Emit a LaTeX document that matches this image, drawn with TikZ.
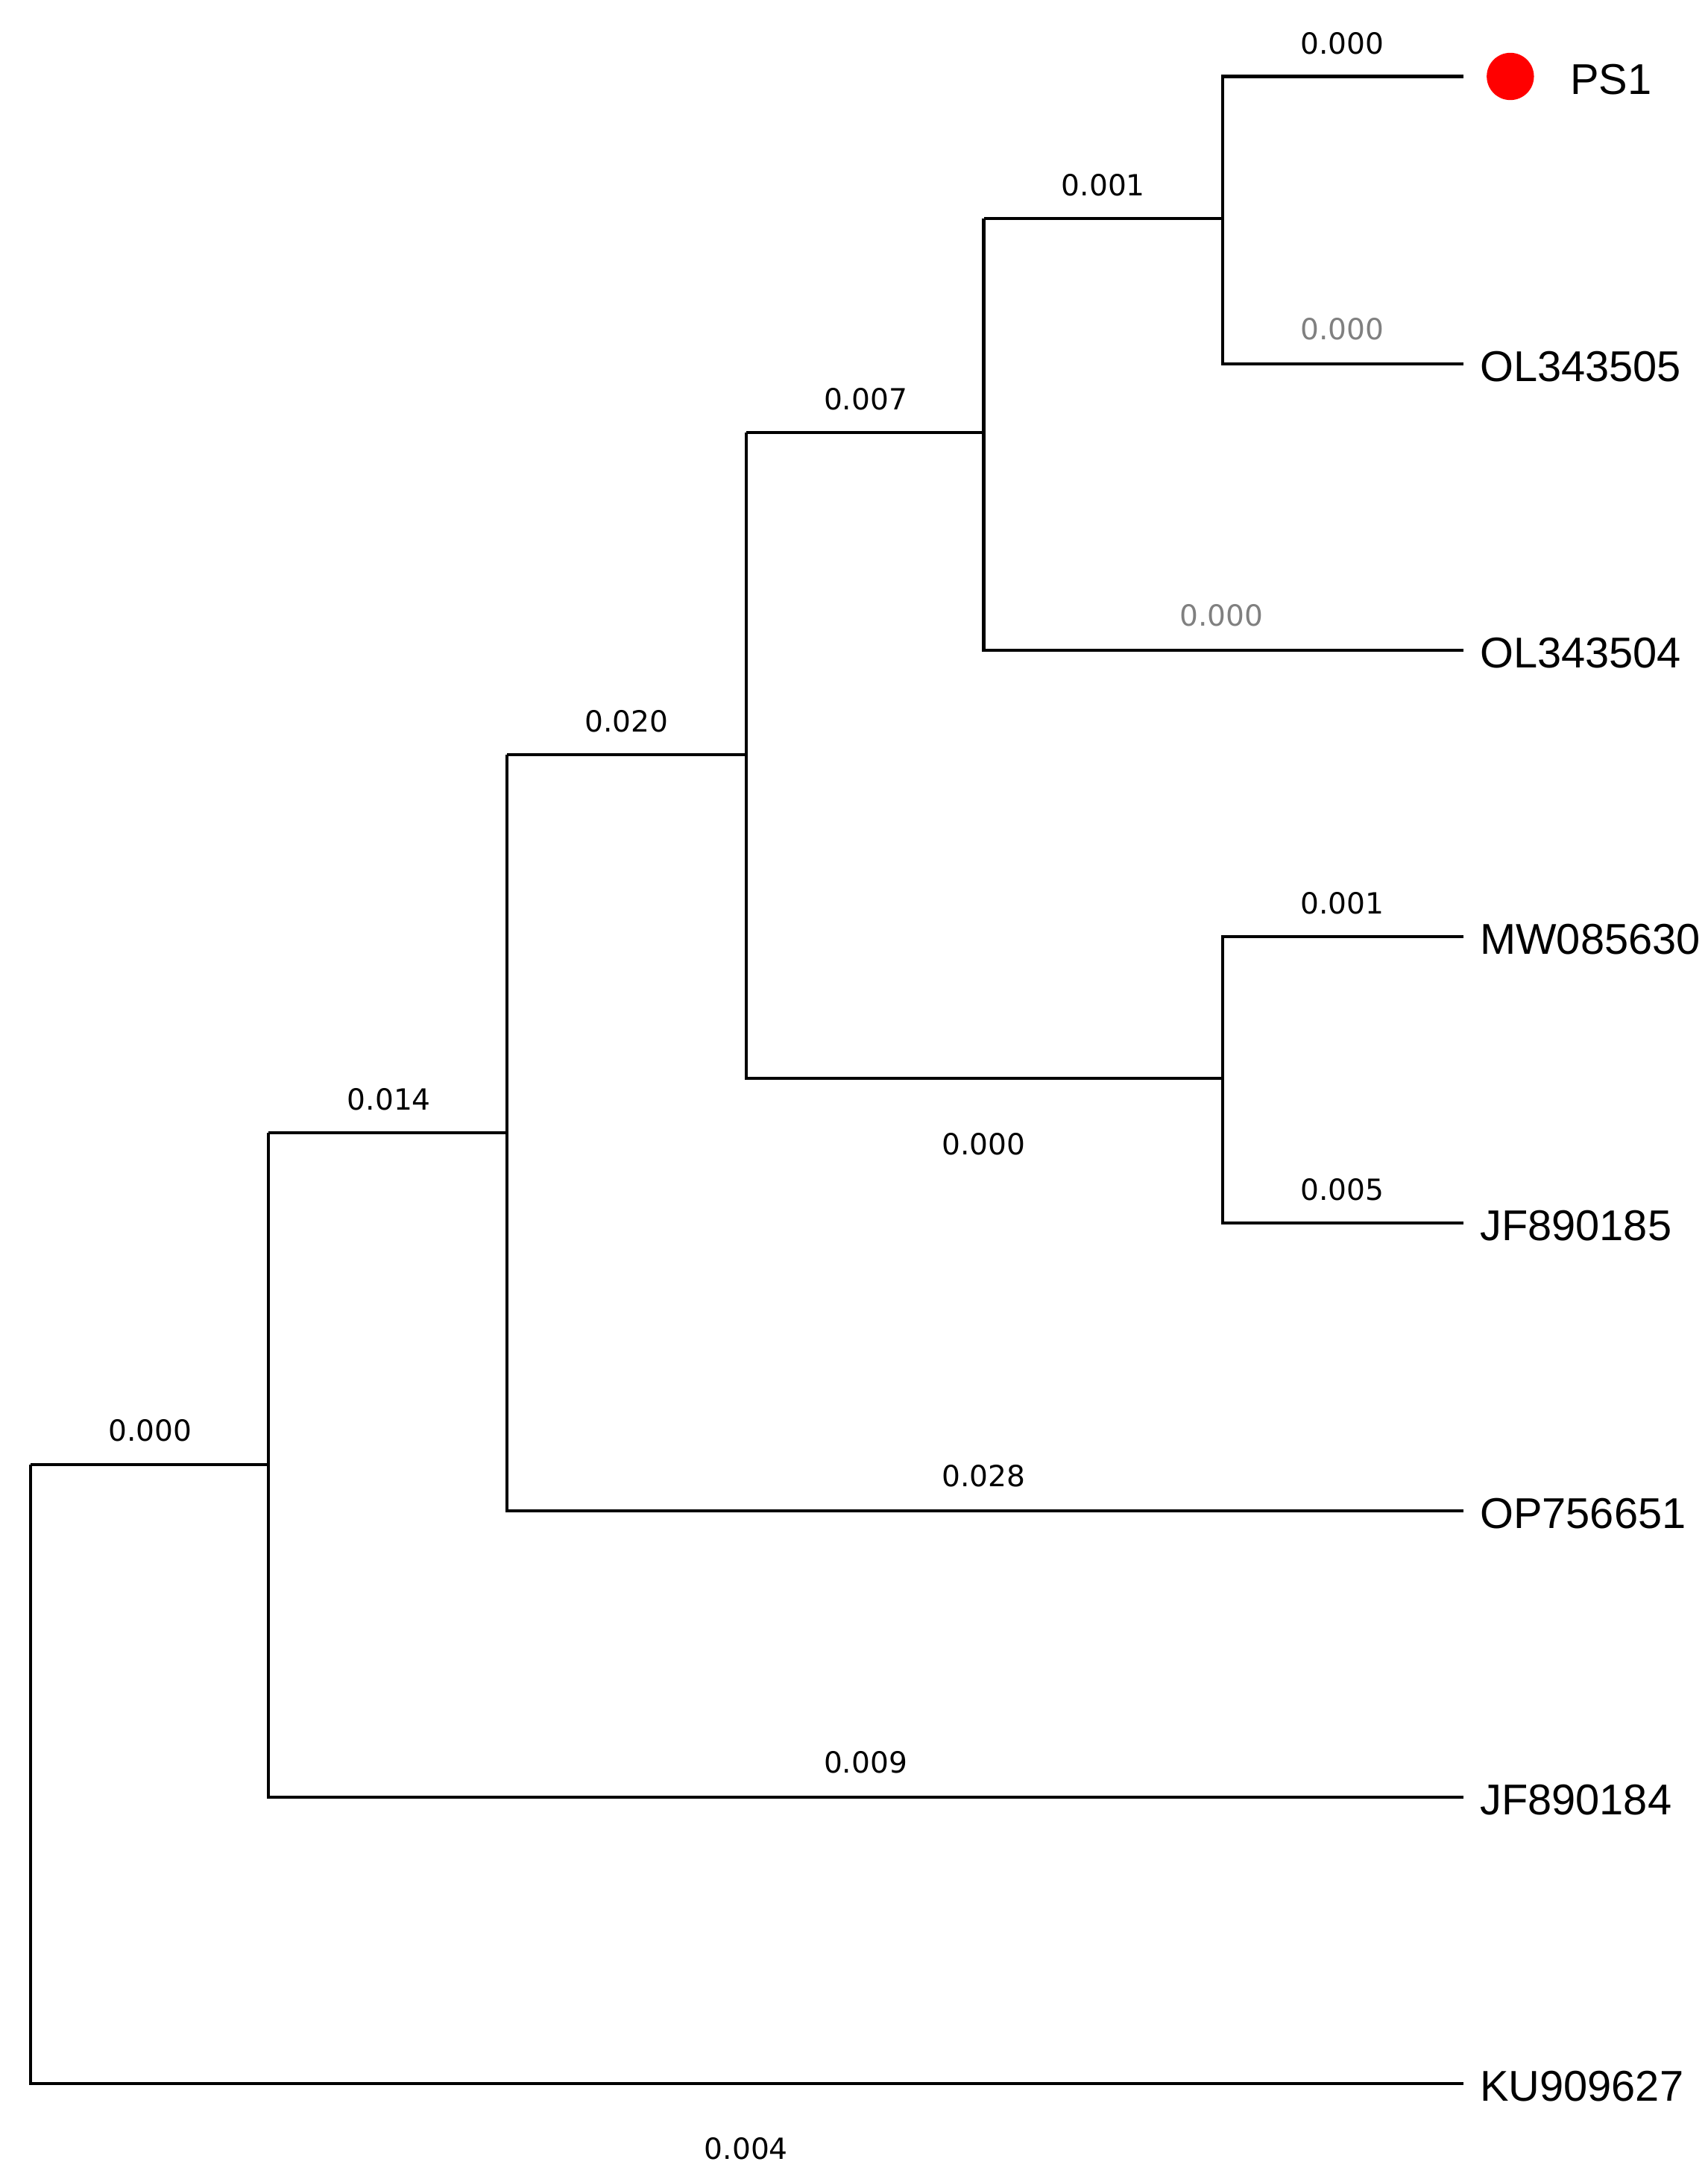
\documentclass[tikz,border=0pt]{standalone}
\usepackage{fontspec}
\setmainfont{Liberation Sans}
\newfontfamily\numfont{DejaVu Sans}
\begin{document}
\begin{tikzpicture}[x=1pt,y=-1pt,
  br/.style={line width=2.2pt},
  leaf/.style={anchor=west,font=\fontsize{31}{31}\selectfont,inner sep=0pt},
  bl/.style={font=\numfont\fontsize{21}{21}\selectfont,inner sep=0pt},
  gl/.style={bl,text=gray}]
\useasboundingbox (0,0) rectangle (1229,1570);
% leaves tips
\coordinate (tPS1) at (1053,55);
\coordinate (tOL5) at (1053,262);
\coordinate (tOL4) at (1053,468);
\coordinate (tMW) at (1053,674);
\coordinate (tJF5) at (1053,880);
\coordinate (tOP) at (1053,1087);
\coordinate (tJF4) at (1053,1293);
\coordinate (tKU) at (1053,1499);
% internal
\coordinate (n1) at (880,157);
\coordinate (n2) at (708,311);
\coordinate (n3) at (880,776);
\coordinate (n4) at (537,543);
\coordinate (n5) at (365,815);
\coordinate (n6) at (193,1054);
\coordinate (r) at (22,1277);
\draw[br] (tPS1) -| (n1) |- (tOL5);
\draw[br] (n1) -- (n1 -| n2);
\draw[br] (n1 -| n2) -- (n2) |- (tOL4);
\draw[br] (tMW) -| (n3) |- (tJF5);
\draw[br] (n2) -- (n2 -| n4);
\draw[br] (n2 -| n4) -- (n4) |- (n3);
\draw[br] (n4) -- (n4 -| n5);
\draw[br] (n4 -| n5) -- (n5) |- (tOP);
\draw[br] (n5) -- (n5 -| n6);
\draw[br] (n5 -| n6) -- (n6) |- (tJF4);
\draw[br] (n6) -- (n6 -| r);
\draw[br] (n6 -| r) -- (r) |- (tKU);
% leaf labels
\fill[red] (1087,55) circle (17);
\node[leaf] (lPS1) at (1130,57) {PS1};
\node[leaf] (lOL5) at (1065,264) {OL343505};
\node[leaf] (lOL4) at (1065,470) {OL343504};
\node[leaf] (lMW) at (1065,676) {MW085630};
\node[leaf] (lJF5) at (1065,882) {JF890185};
\node[leaf] (lOP) at (1065,1089) {OP756651};
\node[leaf] (lJF4) at (1065,1295) {JF890184};
\node[leaf] (lKU) at (1065,1501) {KU909627};
% branch labels
\node[bl] (b1) at (966,31) {0.000};
\node[bl] (b2) at (794,133) {0.001};
\node[gl] (b3) at (966,237) {0.000};
\node[bl] (b4) at (623,287) {0.007};
\node[gl] (b5) at (879,443) {0.000};
\node[bl] (b6) at (451,519) {0.020};
\node[bl] (b7) at (966,650) {0.001};
\node[bl] (b8) at (708,823) {0.000};
\node[bl] (b9) at (966,856) {0.005};
\node[bl] (b10) at (280,791) {0.014};
\node[bl] (b11) at (708,1062) {0.028};
\node[bl] (b12) at (108,1029) {0.000};
\node[bl] (b13) at (623,1268) {0.009};
\node[bl] (b14) at (537,1546) {0.004};
\end{tikzpicture}
\end{document}
